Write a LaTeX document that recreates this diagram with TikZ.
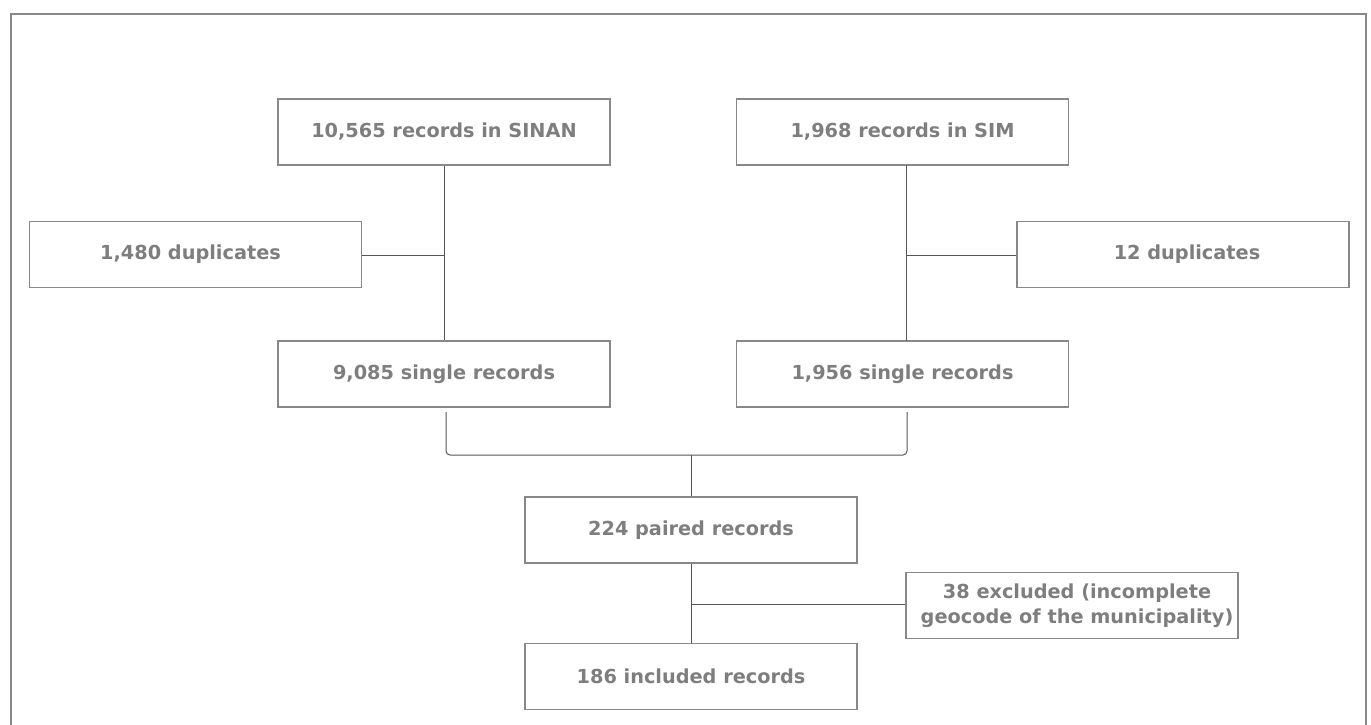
\documentclass[tikz,border=0pt]{standalone}
\usepackage{fontspec}
\setmainfont{DejaVu Sans}
\begin{document}
\begin{tikzpicture}[x=1pt,y=-1pt,
  box/.style={draw=boxgray, line width=1.4pt, minimum width=332pt, minimum height=66pt,
    inner sep=0pt, text=txtgray, font=\fontsize{19.3}{25}\selectfont\bfseries, align=center},
  conn/.style={draw=linegray, line width=1pt},
  ]
\definecolor{boxgray}{HTML}{888888}
\definecolor{txtgray}{HTML}{7E7E7E}
\definecolor{linegray}{HTML}{555555}
\useasboundingbox (0,0) rectangle (1371,724);
% outer frame
\begin{scope}
\clip (0,0) rectangle (1371,724);
\draw[draw=boxgray, line width=2pt] (11,740) -- (11,14) -- (1366,14) -- (1366,740);
\end{scope}
% nodes
\node[box] (sinan) at (444,132) {10,565 records in SINAN};
\node[box] (sim) at (902.5,132) {1,968 records in SIM};
\node[box] (dupA) at (195.5,254.5) {\hspace*{-10pt}1,480 duplicates};
\node[box] (dupB) at (1183,254.5) {\hspace*{8pt}12 duplicates};
\node[box] (singA) at (444,374) {9,085 single records};
\node[box] (singB) at (902.5,374) {1,956 single records};
\node[box] (paired) at (691,530) {224 paired records};
\node[box] (excl) at (1072,605.5) {\hspace*{10pt}38 excluded (incomplete\\\hspace*{10pt}geocode of the municipality)};
\node[box] (incl) at (691,676.5) {186 included records};
% junction coordinates
\coordinate (jA) at (444,255);
\coordinate (jB) at (906,255);
\coordinate (bl) at (446,412);
\coordinate (br) at (907,412);
\coordinate (bm) at (691,455);
\coordinate (jC) at (691,604);
% connectors
\draw[conn] (sinan.south) -- (singA.north);
\draw[conn] (dupA.east |- jA) -- (jA);
\draw[conn] (906,165) -- (906,341);
\draw[conn] (dupB.west |- jB) -- (jB);
\draw[conn, rounded corners=4pt] (bl) -- (bl |- bm) -- (br |- bm) -- (br);
\draw[conn] (bm) -- (paired.north);
\draw[conn] (paired.south) -- (incl.north);
\draw[conn] (jC) -- (excl.west |- jC);
\end{tikzpicture}
\end{document}
